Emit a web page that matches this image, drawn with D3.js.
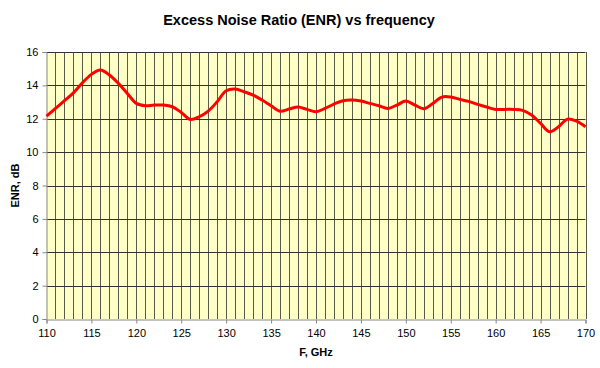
<!DOCTYPE html>
<html><head><meta charset="utf-8">
<script src="https://cdn.jsdelivr.net/npm/d3@7"></script>
<style>body{margin:0;background:#fff}svg{display:block}text{font-family:"Liberation Sans",Arial,sans-serif}</style>
</head><body><svg id="c" width="600" height="368"></svg>
<script>
const freq = [110,111,112,113,114,115,116,117,118,119,120,121,122,123,124,125,126,127,128,129,130,131,132,133,134,135,136,137,138,139,140,141,142,143,144,145,146,147,148,149,150,151,152,153,154,155,156,157,158,159,160,161,162,163,164,165,166,167,168,169,170];
const enr = [12.16,12.62,13.08,13.55,14.15,14.66,14.92,14.62,14.12,13.52,12.92,12.78,12.82,12.82,12.72,12.38,11.96,12.12,12.46,13.02,13.68,13.78,13.62,13.42,13.12,12.78,12.45,12.58,12.7,12.56,12.42,12.62,12.88,13.08,13.12,13.06,12.92,12.78,12.62,12.82,13.06,12.82,12.6,12.92,13.3,13.3,13.16,13.04,12.86,12.7,12.56,12.56,12.56,12.5,12.22,11.72,11.22,11.52,11.98,11.86,11.52];
const xTicks = [110,115,120,125,130,135,140,145,150,155,160,165,170];
const yTicks = [0,2,4,6,8,10,12,14,16];

const svg = d3.select("#c");
const L=46.5, R=585.5, T=52, B=319;
const x = d3.scaleLinear().domain([110,170]).range([L,R]);
const y = d3.scaleLinear().domain([0,16]).range([B,T]);

svg.append("rect").attr("x",L).attr("y",T).attr("width",R-L).attr("height",B-T).attr("fill","#FFFFC8");

// vertical grid every 1 GHz
svg.append("g").selectAll("line").data(d3.range(111,171)).join("line")
  .attr("x1",d=>Math.round(x(d))+0.5).attr("x2",d=>Math.round(x(d))+0.5)
  .attr("y1",T).attr("y2",B).attr("stroke","#5a5a48").attr("stroke-width",1);
// horizontal grid
svg.append("g").selectAll("line").data(yTicks.filter(d=>d>0)).join("line")
  .attr("x1",L).attr("x2",R).attr("y1",d=>Math.round(y(d))+0.5).attr("y2",d=>Math.round(y(d))+0.5)
  .attr("stroke","#333").attr("stroke-width",1);

const xAxis = svg.append("g").attr("transform",`translate(0,${B+0.5})`)
  .call(d3.axisBottom(x).tickValues(xTicks).tickSize(4).tickPadding(6).tickFormat(d3.format("d")));
const yAxis = svg.append("g").attr("transform",`translate(${L},0)`)
  .call(d3.axisLeft(y).tickValues(yTicks).tickSize(4).tickPadding(4).tickFormat(d3.format("d")));
[xAxis,yAxis].forEach(g=>{
  g.selectAll("path").attr("stroke","#888");
  g.selectAll("line").attr("stroke","#888");
  g.selectAll("text").attr("font-size","11px").attr("fill","#000").attr("font-family","Liberation Sans, Arial, sans-serif");
});

const line = d3.line().x((d,i)=>x(freq[i])).y(d=>y(d)).curve(d3.curveCatmullRom.alpha(0.5));
svg.append("path").datum(enr).attr("d",line).attr("fill","none").attr("stroke","#FF0000").attr("stroke-width",3).attr("stroke-linejoin","round");

svg.append("text").attr("x",299).attr("y",25).attr("text-anchor","middle").attr("font-size","14.5px").attr("font-weight","bold").text("Excess Noise Ratio (ENR) vs frequency");
svg.append("text").attr("x",(L+R)/2).attr("y",356).attr("text-anchor","middle").attr("font-size","11px").attr("font-weight","bold").text("F, GHz");
svg.append("text").attr("transform",`translate(19,${(T+B)/2}) rotate(-90)`).attr("text-anchor","middle").attr("font-size","11px").attr("font-weight","bold").text("ENR, dB");
</script></body></html>
